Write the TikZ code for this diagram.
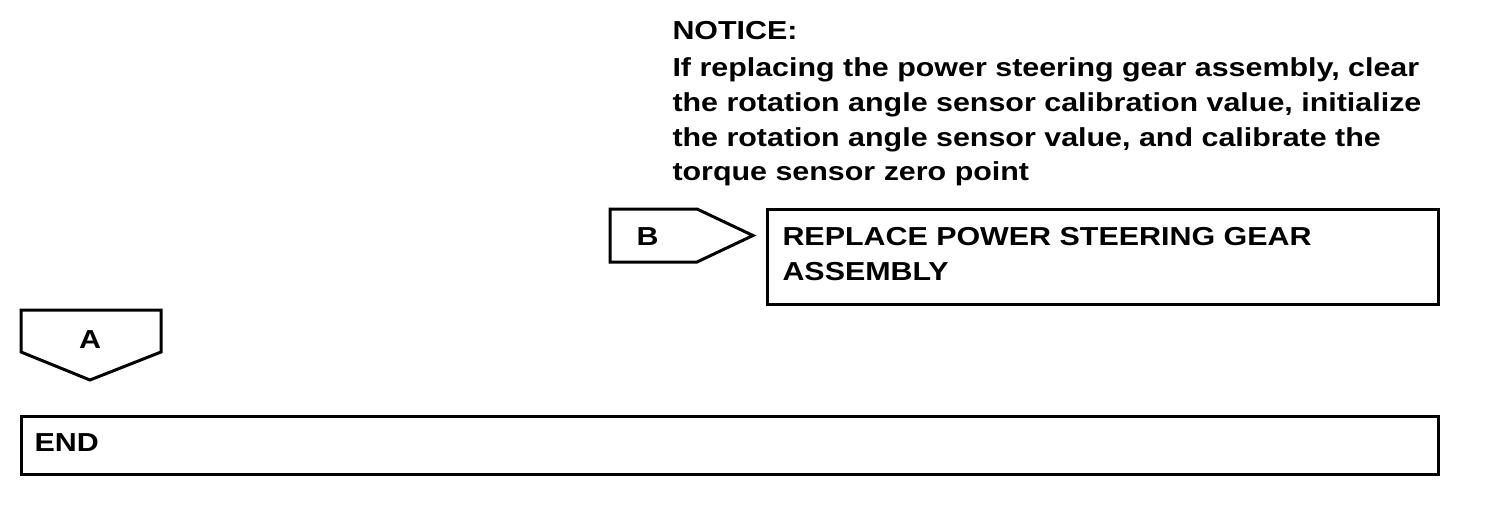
\documentclass[tikz,border=0pt]{standalone}
\usepackage{fontspec}
\setmainfont{Liberation Sans}[FakeStretch=1.17]
\begin{document}
\begin{tikzpicture}[x=1pt,y=-1pt,line width=3pt,
  txt/.style={font=\fontsize{26}{34.5}\selectfont\bfseries, inner sep=0pt, anchor=base west},
  boxst/.style={draw, inner sep=0pt, anchor=north west}]
\useasboundingbox (0,0) rectangle (1504,504);
% notice text
\node[txt] (notice) at (671,39) {NOTICE:};
\node[txt] (n1) at (671,76.5) {If replacing the power steering gear assembly, clear};
\node[txt] (n2) at (671,111.5) {the rotation angle sensor calibration value, initialize};
\node[txt] (n3) at (671,146) {the rotation angle sensor value, and calibrate the};
\node[txt] (n4) at (671,180.5) {torque sensor zero point};
% B pointer
\coordinate (b1) at (610,209);
\coordinate (b2) at (697,209);
\coordinate (b3) at (753,235.5);
\coordinate (b4) at (697,262);
\coordinate (b5) at (610,262);
\draw[line join=miter] (b1) -- (b2) -- (b3) -- (b4) -- (b5) -- cycle;
\node[txt] (B) at (635,245) {B};
% replace box
\node[boxst, minimum width=671pt, minimum height=95pt] (rep) at (766,208) {};
\node[txt] (r1) at (781,245) {REPLACE POWER STEERING GEAR};
\node[txt] (r2) at (781,280) {ASSEMBLY};
% A pointer
\coordinate (a1) at (21,310);
\coordinate (a2) at (161,310);
\coordinate (a3) at (161,352);
\coordinate (a4) at (90,380);
\coordinate (a5) at (21,352);
\draw[line join=miter] (a1) -- (a2) -- (a3) -- (a4) -- (a5) -- cycle;
\node[txt, anchor=base] (A) at (90,348) {A};
% end box
\node[boxst, minimum width=1417pt, minimum height=58pt] (endbox) at (20,415) {};
\node[txt] (endt) at (33,451) {END};
\end{tikzpicture}
\end{document}
